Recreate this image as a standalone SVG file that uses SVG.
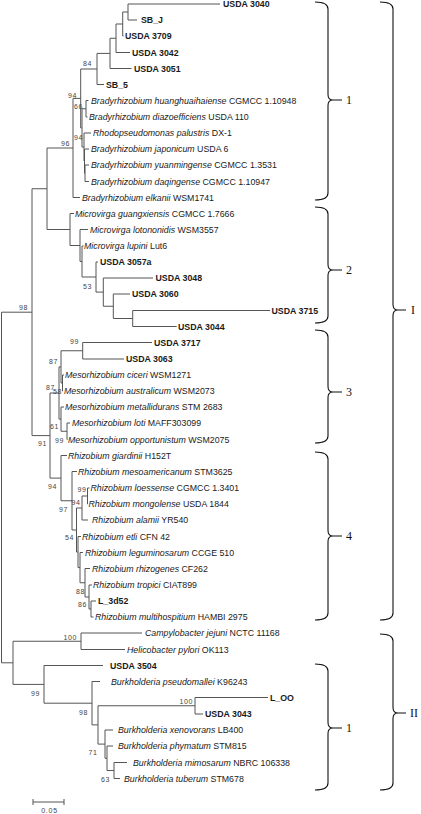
<svg xmlns="http://www.w3.org/2000/svg" width="421" height="814" viewBox="0 0 421 814">
<style>
.t{font-family:"Liberation Sans",Arial,sans-serif;font-size:8.8px;fill:#1a1a1a}
.b{font-weight:bold}
.i{font-style:italic}
.bs{font-family:"Liberation Sans",Arial,sans-serif;font-size:7px;fill:#444;letter-spacing:0.6px;text-anchor:end}
.e{fill:none;stroke:#555;stroke-width:1}
.br{fill:none;stroke:#111;stroke-width:1.1}
.bl{font-family:"Liberation Serif","Times New Roman",serif;font-size:12px;fill:#111}
</style>
<rect width="421" height="814" fill="#fff"/>
<g id="connectors">
<path class="e" d="M220,4 H128 V20 H137"/>
<path class="e" d="M128,12 H122.7 V36 H123.5"/>
<path class="e" d="M122.7,24 H116 V52.5 H130"/>
<path class="e" d="M116,38.25 H110 V68.5 H131.5"/>
<path class="e" d="M110,53.4 H97 V84.5 H104"/>
<path class="e" d="M97,69 H80.7 V127.9 H82"/>
<path class="e" d="M88.5,100.5 H86 V117 H87.5"/>
<path class="e" d="M86,108.75 H82 V147 H84"/>
<path class="e" d="M91,133 H84 V161 H84.5"/>
<path class="e" d="M89,149 H84.5 V173.25 H85"/>
<path class="e" d="M89,165 H85 V181.5 H89"/>
<path class="e" d="M80.7,98.4 H73 V197.5 H80"/>
<path class="e" d="M73,148 H47 V229.5 H70"/>
<path class="e" d="M47,188.75 H32 V435.6 H50"/>
<path class="e" d="M74,213.5 H70 V245.5 H80"/>
<path class="e" d="M88,229.5 H80 V261.5 H82"/>
<path class="e" d="M83.5,246 H82 V277 H96"/>
<path class="e" d="M98,262 H96 V292.1 H103.3"/>
<path class="e" d="M153,278 H103.3 V306.25 H113.3"/>
<path class="e" d="M130,294 H113.3 V318.5 H132.7"/>
<path class="e" d="M270,310.5 H132.7 V326.5 H176.7"/>
<path class="e" d="M59,393 H50 V478.1 H61"/>
<path class="e" d="M61,366.9 H59 V419.1 H61"/>
<path class="e" d="M82.7,350.75 H61 V383 H62.5"/>
<path class="e" d="M152,342.5 H82.7 V359 H124"/>
<path class="e" d="M64,375 H62.5 V391 H63"/>
<path class="e" d="M64,407 H61 V431.25 H67"/>
<path class="e" d="M70,423 H67 V439.5 H67.5"/>
<path class="e" d="M67,455.5 H61 V500.75 H72"/>
<path class="e" d="M77,471.5 H72 V530 H76.5"/>
<path class="e" d="M82,508 H76.5 V552 H78"/>
<path class="e" d="M87.5,496 H82 V520 H88"/>
<path class="e" d="M89.5,488 H87.5 V504 H88"/>
<path class="e" d="M81,536.5 H78 V567.6 H80"/>
<path class="e" d="M83,552.5 H80 V582.75 H85"/>
<path class="e" d="M90,568.5 H85 V597 H89"/>
<path class="e" d="M92,585 H89 V609 H91"/>
<path class="e" d="M96,601 H91 V617 H93.5"/>
<path class="e" d="M32,312.2 H1.5 V662.8 H13" stroke-width="1.5"/>
<path class="e" d="M81,641.25 H13 V684.4 H44"/>
<path class="e" d="M142,633 H81 V649.5 H125"/>
<path class="e" d="M103,665.5 H44 V703.2 H92"/>
<path class="e" d="M100,681.5 H92 V724.9 H98"/>
<path class="e" d="M195,705.75 H98 V744.1 H105"/>
<path class="e" d="M268,697.5 H195 V714 H203"/>
<path class="e" d="M113,730 H105 V758.25 H107"/>
<path class="e" d="M113,746 H107 V770.5 H114"/>
<path class="e" d="M127,762.5 H114 V778.5 H120"/>
<path class="e" d="M33,802 H64 M33,799 V805 M64,799 V805"/>
</g>
<g id="bootstrap">
<text class="bs" x="92" y="65.5">84</text>
<text class="bs" x="77" y="97.5">94</text>
<text class="bs" x="83" y="108.5">66</text>
<text class="bs" x="83" y="139.5">94</text>
<text class="bs" x="70" y="145.5">96</text>
<text class="bs" x="92" y="288.5">53</text>
<text class="bs" x="28" y="309.5">98</text>
<text class="bs" x="79" y="344">99</text>
<text class="bs" x="58" y="363.5">87</text>
<text class="bs" x="55" y="390">87</text>
<text class="bs" x="62" y="394">58</text>
<text class="bs" x="59" y="429">61</text>
<text class="bs" x="64" y="442.5">99</text>
<text class="bs" x="47" y="445.5">91</text>
<text class="bs" x="57" y="489">94</text>
<text class="bs" x="86.5" y="491.5">99</text>
<text class="bs" x="80.5" y="505">94</text>
<text class="bs" x="68" y="511.5">97</text>
<text class="bs" x="74" y="539.5">54</text>
<text class="bs" x="85" y="593.5">88</text>
<text class="bs" x="87" y="606.5">86</text>
<text class="bs" x="77" y="639.5">100</text>
<text class="bs" x="40" y="695.5">99</text>
<text class="bs" x="193" y="703.5">100</text>
<text class="bs" x="88" y="714.5">98</text>
<text class="bs" x="97.5" y="754.5">71</text>
<text class="bs" x="110" y="781.5">63</text>
<text class="bs" x="58" y="813" style="letter-spacing:0.8px">0.05</text>
</g>
<g id="leaf-usda3040"><text class="t b" x="223" y="7.2">USDA 3040</text></g>
<g id="leaf-sbj"><text class="t b" x="141" y="23.2">SB_J</text></g>
<g id="leaf-usda3709"><text class="t b" x="125" y="39.2">USDA 3709</text></g>
<g id="leaf-usda3042"><text class="t b" x="132" y="55.7">USDA 3042</text></g>
<g id="leaf-usda3051"><text class="t b" x="134" y="71.7">USDA 3051</text></g>
<g id="leaf-sb5"><text class="t b" x="106" y="87.7">SB_5</text></g>
<g id="leaf-huanghuaihaiense"><text class="t" x="91" y="103.7"><tspan class="i">Bradyrhizobium huanghuaihaiense</tspan> CGMCC 1.10948</text></g>
<g id="leaf-diazoefficiens"><text class="t" x="89" y="120.2"><tspan class="i">Bradyrhizobium diazoefficiens</tspan> USDA 110</text></g>
<g id="leaf-palustris"><text class="t" x="93" y="136.2"><tspan class="i">Rhodopseudomonas palustris</tspan> DX-1</text></g>
<g id="leaf-japonicum"><text class="t" x="91" y="152.2"><tspan class="i">Bradyrhizobium japonicum</tspan> USDA 6</text></g>
<g id="leaf-yuanmingense"><text class="t" x="91" y="168.2"><tspan class="i">Bradyrhizobium yuanmingense</tspan> CGMCC 1.3531</text></g>
<g id="leaf-daqingense"><text class="t" x="91" y="184.7"><tspan class="i">Bradyrhizobium daqingense</tspan> CGMCC 1.10947</text></g>
<g id="leaf-elkanii"><text class="t" x="82" y="200.7"><tspan class="i">Bradyrhizobium elkanii</tspan> WSM1741</text></g>
<g id="leaf-guangxiensis"><text class="t" x="75" y="216.7"><tspan class="i">Microvirga guangxiensis</tspan> CGMCC 1.7666</text></g>
<g id="leaf-lotononidis"><text class="t" x="90" y="232.7"><tspan class="i">Microvirga lotononidis</tspan> WSM3557</text></g>
<g id="leaf-lupini"><text class="t" x="84" y="249.2"><tspan class="i">Microvirga lupini</tspan> Lut6</text></g>
<g id="leaf-usda3057a"><text class="t b" x="100" y="265.2">USDA 3057a</text></g>
<g id="leaf-usda3048"><text class="t b" x="155.5" y="281.2">USDA 3048</text></g>
<g id="leaf-usda3060"><text class="t b" x="132" y="297.2">USDA 3060</text></g>
<g id="leaf-usda3715"><text class="t b" x="271.5" y="313.7">USDA 3715</text></g>
<g id="leaf-usda3044"><text class="t b" x="178" y="329.7">USDA 3044</text></g>
<g id="leaf-usda3717"><text class="t b" x="154" y="345.7">USDA 3717</text></g>
<g id="leaf-usda3063"><text class="t b" x="126" y="362.2">USDA 3063</text></g>
<g id="leaf-ciceri"><text class="t" x="65" y="378.2"><tspan class="i">Mesorhizobium ciceri</tspan> WSM1271</text></g>
<g id="leaf-australicum"><text class="t" x="64" y="394.2"><tspan class="i">Mesorhizobium australicum</tspan> WSM2073</text></g>
<g id="leaf-metallidurans"><text class="t" x="65" y="410.2"><tspan class="i">Mesorhizobium metallidurans</tspan> STM 2683</text></g>
<g id="leaf-loti"><text class="t" x="72" y="426.2"><tspan class="i">Mesorhizobium loti</tspan> MAFF303099</text></g>
<g id="leaf-opportunistum"><text class="t" x="68" y="442.7"><tspan class="i">Mesorhizobium opportunistum</tspan> WSM2075</text></g>
<g id="leaf-giardinii"><text class="t" x="68" y="458.7"><tspan class="i">Rhizobium giardinii</tspan> H152T</text></g>
<g id="leaf-mesoamericanum"><text class="t" x="78" y="474.7"><tspan class="i">Rhizobium mesoamericanum</tspan> STM3625</text></g>
<g id="leaf-loessense"><text class="t" x="90.5" y="491.2"><tspan class="i">Rhizobium loessense</tspan> CGMCC 1.3401</text></g>
<g id="leaf-mongolense"><text class="t" x="88.5" y="507.2"><tspan class="i">Rhizobium mongolense</tspan> USDA 1844</text></g>
<g id="leaf-alamii"><text class="t" x="92" y="523.2"><tspan class="i">Rhizobium alamii</tspan> YR540</text></g>
<g id="leaf-etli"><text class="t" x="82" y="539.7"><tspan class="i">Rhizobium etli</tspan> CFN 42</text></g>
<g id="leaf-leguminosarum"><text class="t" x="85" y="555.7"><tspan class="i">Rhizobium leguminosarum</tspan> CCGE 510</text></g>
<g id="leaf-rhizogenes"><text class="t" x="92" y="571.7"><tspan class="i">Rhizobium rhizogenes</tspan> CF262</text></g>
<g id="leaf-tropici"><text class="t" x="93" y="588.2"><tspan class="i">Rhizobium tropici</tspan> CIAT899</text></g>
<g id="leaf-l3d52"><text class="t b" x="98" y="604.2">L_3d52</text></g>
<g id="leaf-multihospitium"><text class="t" x="95" y="620.2"><tspan class="i">Rhizobium multihospitium</tspan> HAMBI 2975</text></g>
<g id="leaf-jejuni"><text class="t" x="145" y="636.2"><tspan class="i">Campylobacter jejuni</tspan> NCTC 11168</text></g>
<g id="leaf-pylori"><text class="t" x="127" y="652.7"><tspan class="i">Helicobacter pylori</tspan> OK113</text></g>
<g id="leaf-usda3504"><text class="t b" x="110" y="668.7">USDA 3504</text></g>
<g id="leaf-pseudomallei"><text class="t" x="111" y="684.7"><tspan class="i">Burkholderia pseudomallei</tspan> K96243</text></g>
<g id="leaf-loo"><text class="t b" x="270" y="700.7">L_OO</text></g>
<g id="leaf-usda3043"><text class="t b" x="205" y="717.2">USDA 3043</text></g>
<g id="leaf-xenovorans"><text class="t" x="118" y="733.2"><tspan class="i">Burkholderia xenovorans</tspan> LB400</text></g>
<g id="leaf-phymatum"><text class="t" x="118" y="749.2"><tspan class="i">Burkholderia phymatum</tspan> STM815</text></g>
<g id="leaf-mimosarum"><text class="t" x="133" y="765.7"><tspan class="i">Burkholderia mimosarum</tspan> NBRC 106338</text></g>
<g id="leaf-tuberum"><text class="t" x="124" y="781.7"><tspan class="i">Burkholderia tuberum</tspan> STM678</text></g>
<g id="braces">
<path class="br" d="M315,2 Q328,2 328,9 V94.5 Q328,100 333,100 Q328,100 328,105.5 V193 Q328,200 315,200 M333,100 H342"/>
<text class="bl" x="346" y="104">1</text>
<path class="br" d="M315,207 Q328,207 328,214 V264.5 Q328,270 333,270 Q328,270 328,275.5 V316 Q328,323 315,323 M333,270 H342"/>
<text class="bl" x="346" y="274">2</text>
<path class="br" d="M315,330 Q328,330 328,337 V386.5 Q328,392 333,392 Q328,392 328,397.5 V436 Q328,443 315,443 M333,392 H342"/>
<text class="bl" x="346" y="396">3</text>
<path class="br" d="M315,452 Q328,452 328,459 V530.5 Q328,536 333,536 Q328,536 328,541.5 V613 Q328,620 315,620 M333,536 H342"/>
<text class="bl" x="346" y="540">4</text>
<path class="br" d="M315,664 Q328,664 328,671 V722.5 Q328,728 333,728 Q328,728 328,733.5 V783 Q328,790 315,790 M333,728 H342"/>
<text class="bl" x="346" y="732">1</text>
<path class="br" d="M380,2 Q393,2 393,9 V304.5 Q393,310 398,310 Q393,310 393,315.5 V613 Q393,620 380,620 M398,310 H406"/>
<text class="bl" x="411" y="314">I</text>
<path class="br" d="M380,634 Q393,634 393,641 V707.5 Q393,713 398,713 Q393,713 393,718.5 V783 Q393,790 380,790 M398,713 H406"/>
<text class="bl" x="410" y="717">II</text>
</g>
</svg>
